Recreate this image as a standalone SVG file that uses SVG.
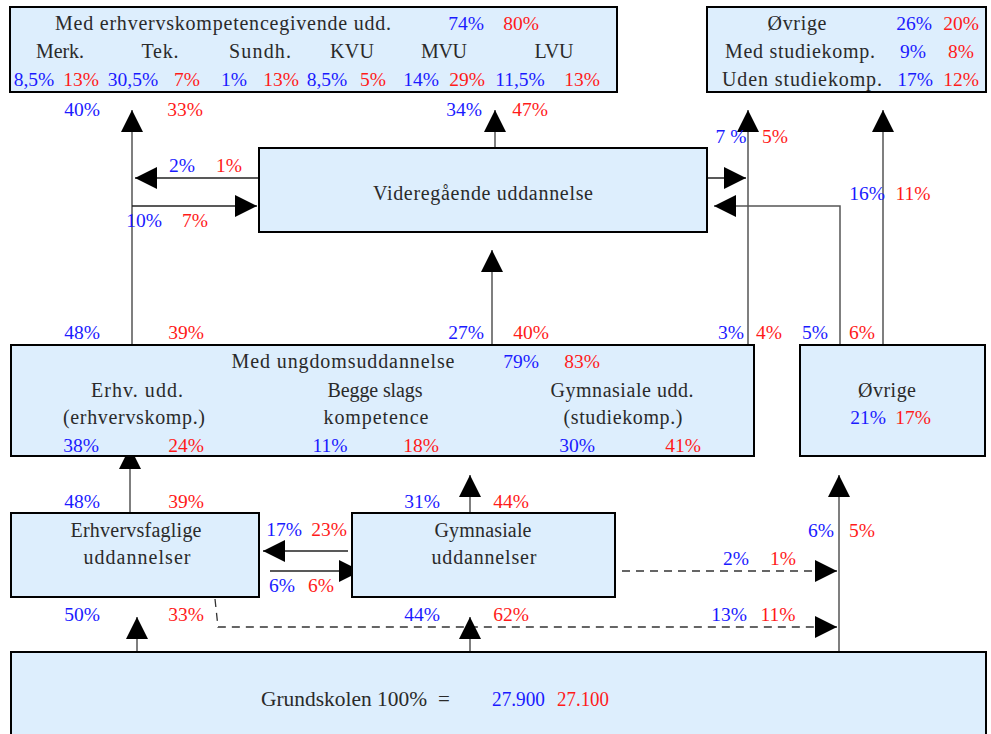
<svg xmlns="http://www.w3.org/2000/svg" width="991" height="734" viewBox="0 0 991 734">
<style>
.box{fill:#ddeefd;stroke:#000;stroke-width:2}
.lbl{font-family:"Liberation Serif",serif;font-size:20px;fill:#2a2a2a;text-anchor:middle}
.b{font-family:"Liberation Serif",serif;font-size:19.5px;fill:#1a1aff;text-anchor:middle}
.r{font-family:"Liberation Serif",serif;font-size:19.5px;fill:#ff1a1a;text-anchor:middle}
.ln{stroke:#555;stroke-width:1.5;fill:none}
.hl{stroke:#222;stroke-width:1.5;fill:none}
.dl{stroke:#333;stroke-width:1.3;fill:none;stroke-dasharray:8 6}
</style>
<defs>
<marker id="ah" markerUnits="userSpaceOnUse" markerWidth="22" markerHeight="22" refX="22" refY="11" orient="auto" viewBox="0 0 22 22"><path d="M0,0 L22,11 L0,22 z" fill="#000"/></marker>
</defs>
<rect width="991" height="734" fill="#fff"/>

<g id="connectors">
<line class="ln" x1="132" y1="345" x2="132" y2="110" marker-end="url(#ah)"/>
<line class="hl" x1="258" y1="178" x2="135" y2="178" marker-end="url(#ah)"/>
<line class="hl" x1="132" y1="206" x2="257" y2="206" marker-end="url(#ah)"/>
<line class="ln" x1="495" y1="148" x2="495" y2="110" marker-end="url(#ah)"/>
<line class="ln" x1="492" y1="345" x2="492" y2="250" marker-end="url(#ah)"/>
<line class="hl" x1="707" y1="178" x2="746" y2="178" marker-end="url(#ah)"/>
<line class="ln" x1="748" y1="345" x2="748" y2="110" marker-end="url(#ah)"/>
<polyline class="ln" points="840,345 840,206 714,206" marker-end="url(#ah)"/>
<line class="ln" x1="883" y1="345" x2="883" y2="110" marker-end="url(#ah)"/>
<line class="ln" x1="130" y1="512" x2="130" y2="447" marker-end="url(#ah)"/>
<line class="ln" x1="470" y1="512" x2="470" y2="475" marker-end="url(#ah)"/>
<line class="hl" x1="348" y1="551" x2="263" y2="551" marker-end="url(#ah)"/>
<line class="hl" x1="270" y1="571" x2="361" y2="571" marker-end="url(#ah)"/>
<line class="dl" x1="622" y1="571" x2="837" y2="571" marker-end="url(#ah)"/>
<polyline class="dl" points="215,599 218,627 837,627" marker-end="url(#ah)"/>
<line class="ln" x1="839" y1="652" x2="839" y2="475" marker-end="url(#ah)"/>
<line class="ln" x1="137" y1="652" x2="137" y2="617" marker-end="url(#ah)"/>
<line class="ln" x1="470" y1="652" x2="470" y2="617" marker-end="url(#ah)"/>
</g>

<g id="top-left">
<rect class="box" x="10" y="7" width="607" height="85"/>
<text class="lbl" x="223" y="30" textLength="336">Med erhvervskompetencegivende udd.</text>
<text class="b" x="466" y="30">74%</text><text class="r" x="521" y="30">80%</text>
<text class="lbl" x="60" y="58" textLength="48">Merk.</text>
<text class="lbl" x="160" y="58" textLength="37">Tek.</text>
<text class="lbl" x="260" y="58" textLength="62">Sundh.</text>
<text class="lbl" x="352" y="58" textLength="44">KVU</text>
<text class="lbl" x="444" y="58" textLength="46">MVU</text>
<text class="lbl" x="554" y="58" textLength="39">LVU</text>
<text class="b" x="34" y="86">8,5%</text><text class="r" x="81" y="86">13%</text>
<text class="b" x="133" y="86">30,5%</text><text class="r" x="187" y="86">7%</text>
<text class="b" x="234" y="86">1%</text><text class="r" x="281" y="86">13%</text>
<text class="b" x="327" y="86">8,5%</text><text class="r" x="373" y="86">5%</text>
<text class="b" x="421" y="86">14%</text><text class="r" x="467" y="86">29%</text>
<text class="b" x="520" y="86">11,5%</text><text class="r" x="582" y="86">13%</text>
</g>

<g id="top-right">
<rect class="box" x="707" y="7" width="279" height="85"/>
<text class="lbl" x="797" y="30" textLength="59">Øvrige</text>
<text class="b" x="914" y="30">26%</text><text class="r" x="961" y="30">20%</text>
<text class="lbl" x="800" y="58" textLength="150">Med studiekomp.</text>
<text class="b" x="913" y="58">9%</text><text class="r" x="961" y="58">8%</text>
<text class="lbl" x="802" y="86" textLength="160">Uden studiekomp.</text>
<text class="b" x="915" y="86">17%</text><text class="r" x="961" y="86">12%</text>
</g>

<g id="labels-upper">
<text class="b" x="82" y="116">40%</text><text class="r" x="185" y="116">33%</text>
<text class="b" x="464" y="116">34%</text><text class="r" x="530" y="116">47%</text>
<text class="b" x="731" y="143">7 %</text><text class="r" x="775" y="143">5%</text>
<text class="b" x="182" y="172">2%</text><text class="r" x="229" y="172">1%</text>
<text class="b" x="144" y="227">10%</text><text class="r" x="195" y="227">7%</text>
<text class="b" x="867" y="200">16%</text><text class="r" x="913" y="200">11%</text>
<text class="b" x="82" y="339">48%</text><text class="r" x="186" y="339">39%</text>
<text class="b" x="466" y="339">27%</text><text class="r" x="531" y="339">40%</text>
<text class="b" x="731" y="339">3%</text><text class="r" x="769" y="339">4%</text>
<text class="b" x="815" y="339">5%</text><text class="r" x="862" y="339">6%</text>
</g>

<g id="videregaaende">
<rect class="box" x="259" y="148" width="448" height="84"/>
<text class="lbl" x="483" y="200" textLength="220">Videregående uddannelse</text>
</g>

<g id="ungdom">
<rect class="box" x="11" y="345" width="743" height="111"/>
<text class="lbl" x="343" y="368" textLength="223">Med ungdomsuddannelse</text>
<text class="b" x="521" y="368">79%</text><text class="r" x="582" y="368">83%</text>
<text class="lbl" x="137" y="397" textLength="92">Erhv. udd.</text>
<text class="lbl" x="134" y="424" textLength="142">(erhvervskomp.)</text>
<text class="lbl" x="375" y="397" textLength="95">Begge slags</text>
<text class="lbl" x="376" y="424" textLength="105">kompetence</text>
<text class="lbl" x="622" y="397" textLength="143">Gymnasiale udd.</text>
<text class="lbl" x="623" y="424" textLength="119">(studiekomp.)</text>
<text class="b" x="81" y="452">38%</text><text class="r" x="186" y="452">24%</text>
<text class="b" x="330" y="452">11%</text><text class="r" x="421" y="452">18%</text>
<text class="b" x="577" y="452">30%</text><text class="r" x="683" y="452">41%</text>
</g>

<g id="ovrige">
<rect class="box" x="800" y="345" width="185" height="111"/>
<text class="lbl" x="887" y="397" textLength="58">Øvrige</text>
<text class="b" x="868" y="424">21%</text><text class="r" x="913" y="424">17%</text>
</g>

<g id="labels-lower">
<text class="b" x="82" y="508">48%</text><text class="r" x="186" y="508">39%</text>
<text class="b" x="422" y="508">31%</text><text class="r" x="511" y="508">44%</text>
<text class="b" x="284" y="536">17%</text><text class="r" x="329" y="536">23%</text>
<text class="b" x="282" y="592">6%</text><text class="r" x="321" y="592">6%</text>
<text class="b" x="821" y="537">6%</text><text class="r" x="862" y="537">5%</text>
<text class="b" x="736" y="565">2%</text><text class="r" x="783" y="565">1%</text>
<text class="b" x="82" y="621">50%</text><text class="r" x="186" y="621">33%</text>
<text class="b" x="422" y="621">44%</text><text class="r" x="511" y="621">62%</text>
<text class="b" x="729" y="621">13%</text><text class="r" x="778" y="621">11%</text>
</g>

<g id="erhvervsfaglige">
<rect class="box" x="11" y="513" width="248" height="84"/>
<text class="lbl" x="136" y="537" textLength="131">Erhvervsfaglige</text>
<text class="lbl" x="137" y="564" textLength="107">uddannelser</text>
</g>

<g id="gymnasiale">
<rect class="box" x="352" y="513" width="263" height="84"/>
<text class="lbl" x="483" y="537" textLength="97">Gymnasiale</text>
<text class="lbl" x="484" y="564" textLength="105">uddannelser</text>
</g>

<g id="grundskolen">
<rect class="box" x="11" y="652" width="975" height="90"/>
<text x="261" y="706" font-family="Liberation Serif, serif" font-size="21" fill="#2a2a2a" textLength="166" lengthAdjust="spacingAndGlyphs">Grundskolen 100%</text>
<text x="444" y="706" font-family="Liberation Serif, serif" font-size="21" fill="#2a2a2a" text-anchor="middle">=</text>
<text x="492" y="706" font-family="Liberation Serif, serif" font-size="20" fill="#1a1aff" textLength="53" lengthAdjust="spacingAndGlyphs">27.900</text>
<text x="557" y="706" font-family="Liberation Serif, serif" font-size="20" fill="#ff1a1a" textLength="52" lengthAdjust="spacingAndGlyphs">27.100</text>
</g>
</svg>
